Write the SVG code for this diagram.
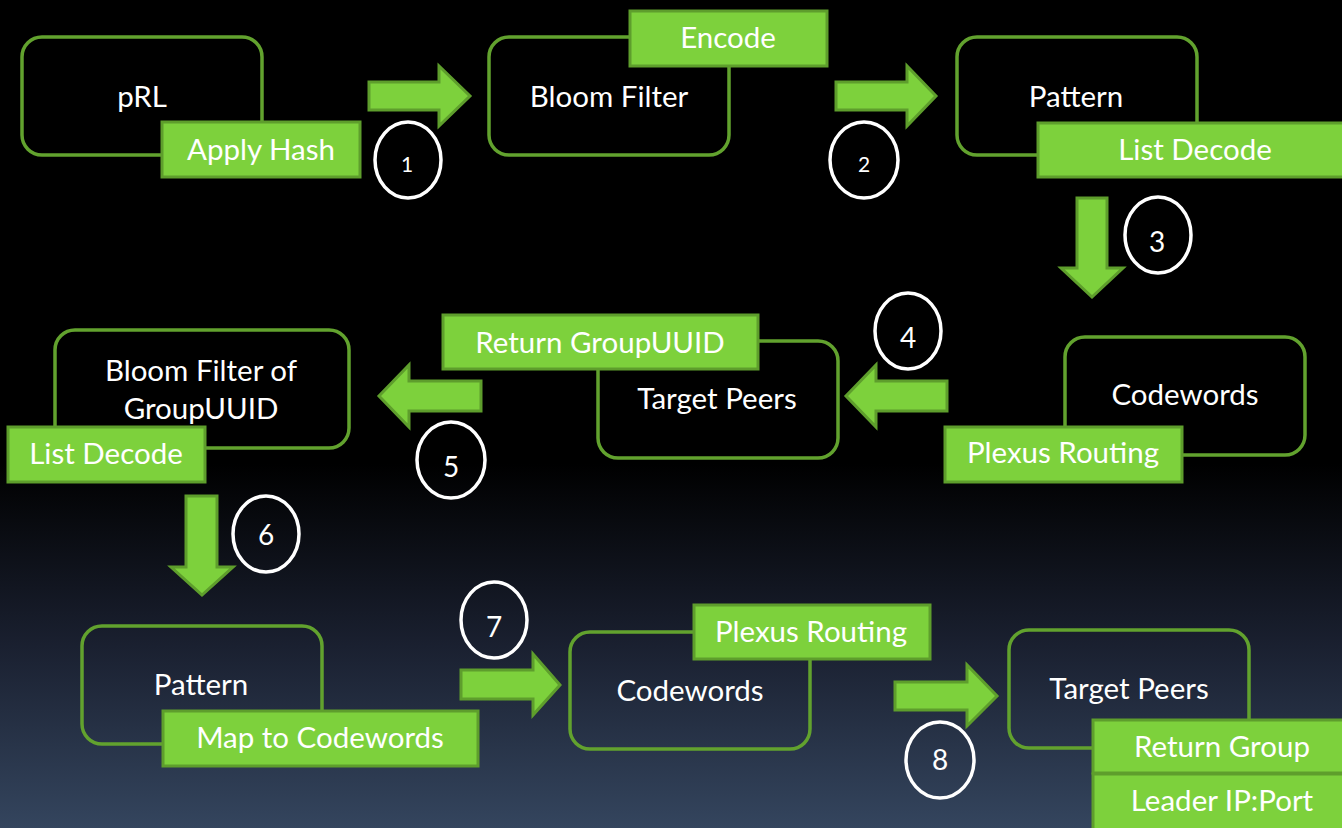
<svg xmlns="http://www.w3.org/2000/svg" width="1342" height="828" viewBox="0 0 1342 828">
<defs>
<linearGradient id="bg" x1="0" y1="0" x2="0" y2="1">
<stop offset="0" stop-color="#000000"/>
<stop offset="0.56" stop-color="#000000"/>
<stop offset="0.78" stop-color="#1a2030"/>
<stop offset="1" stop-color="#34455e"/>
</linearGradient>
</defs>
<style>
.box{fill:none;stroke:#62a22e;stroke-width:3.5}
.lbl{fill:#7dd13c;stroke:#5e9e2c;stroke-width:3}
.arr{fill:#7dd13c;stroke:#5e9e2c;stroke-width:3;stroke-linejoin:miter}
.num{fill:none;stroke:#ffffff;stroke-width:3.5}
text{font-family:Lato,"Open Sans","Liberation Sans",sans-serif;fill:#ffffff;text-anchor:middle;font-size:29.5px}
.d{font-size:28px}
.ds{font-size:21px}
</style>
<rect x="0" y="0" width="1342" height="828" fill="url(#bg)"/>

<g id="connectors">
<polygon class="arr" points="369,82 439,82 439,66 470,96 439,126 439,110 369,110"/>
<polygon class="arr" points="836,82 907,82 907,66 936,96 907,126 907,110 836,110"/>
<polygon class="arr" points="1077,198 1107,198 1107,268 1123,268 1092,297 1061,268 1077,268"/>
<polygon class="arr" points="947,381 876,381 876,365 846,396 876,427 876,411 947,411"/>
<polygon class="arr" points="481,381 409,381 409,365 379,396 409,427 409,411 481,411"/>
<polygon class="arr" points="186,496 217,496 217,567 233,567 202,595 171,567 186,567"/>
<polygon class="arr" points="461,670 533,670 533,654 560,685 533,715 533,699 461,699"/>
<polygon class="arr" points="895,682 967,682 967,665 997,696 967,726 967,710 895,710"/>
</g>

<g id="step-numbers">
<ellipse class="num" cx="408" cy="160" rx="33" ry="38"/><text class="ds" x="407" y="172">1</text>
<ellipse class="num" cx="864" cy="160" rx="34" ry="38"/><text class="ds" x="864" y="172">2</text>
<ellipse class="num" cx="1158" cy="235" rx="33" ry="38"/><text class="d" x="1157" y="252">3</text>
<ellipse class="num" cx="908" cy="331" rx="33" ry="38"/><text class="d" x="908" y="348">4</text>
<ellipse class="num" cx="451" cy="460" rx="34" ry="38"/><text class="d" x="451" y="477">5</text>
<ellipse class="num" cx="266" cy="534" rx="33" ry="38"/><text class="d" x="266" y="545">6</text>
<ellipse class="num" cx="494" cy="620" rx="33" ry="38"/><text class="d" x="494" y="637">7</text>
<ellipse class="num" cx="940" cy="760" rx="34" ry="38"/><text class="d" x="940" y="770">8</text>
</g>

<g id="node-prl">
<rect class="box" x="22" y="37" width="240" height="118" rx="20"/>
<text x="142" y="107">pRL</text>
<rect class="lbl" x="162" y="122" width="198" height="55"/>
<text x="261" y="160">Apply Hash</text>
</g>

<g id="node-bloom-filter">
<rect class="box" x="489" y="37" width="240" height="118" rx="20"/>
<text x="609" y="107">Bloom Filter</text>
<rect class="lbl" x="630" y="11" width="197" height="55"/>
<text x="728" y="48">Encode</text>
</g>

<g id="node-pattern-top">
<rect class="box" x="957" y="37" width="240" height="118" rx="20"/>
<text x="1076" y="107">Pattern</text>
<rect class="lbl" x="1038" y="123" width="306" height="54"/>
<text x="1195" y="160">List Decode</text>
</g>

<g id="node-codewords-mid">
<rect class="box" x="1065" y="337" width="240" height="118" rx="20"/>
<text x="1185" y="405">Codewords</text>
<rect class="lbl" x="945" y="427" width="237" height="55"/>
<text x="1063" y="463">Plexus Routing</text>
</g>

<g id="node-target-peers-mid">
<rect class="box" x="598" y="341" width="240" height="117" rx="20"/>
<text x="717" y="409">Target Peers</text>
<rect class="lbl" x="443" y="315" width="315" height="54"/>
<text x="600" y="353">Return GroupUUID</text>
</g>

<g id="node-bloom-groupuuid">
<rect class="box" x="55" y="330" width="294" height="118" rx="20"/>
<text x="201" y="381">Bloom Filter of</text>
<text x="201" y="419">GroupUUID</text>
<rect class="lbl" x="8" y="427" width="197" height="55"/>
<text x="106" y="464">List Decode</text>
</g>

<g id="node-pattern-bottom">
<rect class="box" x="82" y="626" width="240" height="118" rx="20"/>
<text x="201" y="695">Pattern</text>
<rect class="lbl" x="163" y="711" width="315" height="55"/>
<text x="320" y="748">Map to Codewords</text>
</g>

<g id="node-codewords-bottom">
<rect class="box" x="570" y="632" width="240" height="117" rx="20"/>
<text x="690" y="701">Codewords</text>
<rect class="lbl" x="694" y="605" width="236" height="54"/>
<text x="811" y="642">Plexus Routing</text>
</g>

<g id="node-target-peers-bottom">
<rect class="box" x="1009" y="630" width="240" height="118" rx="20"/>
<text x="1129" y="699">Target Peers</text>
<rect class="lbl" x="1093" y="720" width="251" height="53"/>
<text x="1222" y="757">Return Group</text>
<rect class="lbl" x="1093" y="774" width="251" height="56"/>
<text x="1222" y="811">Leader IP:Port</text>
</g>
</svg>
